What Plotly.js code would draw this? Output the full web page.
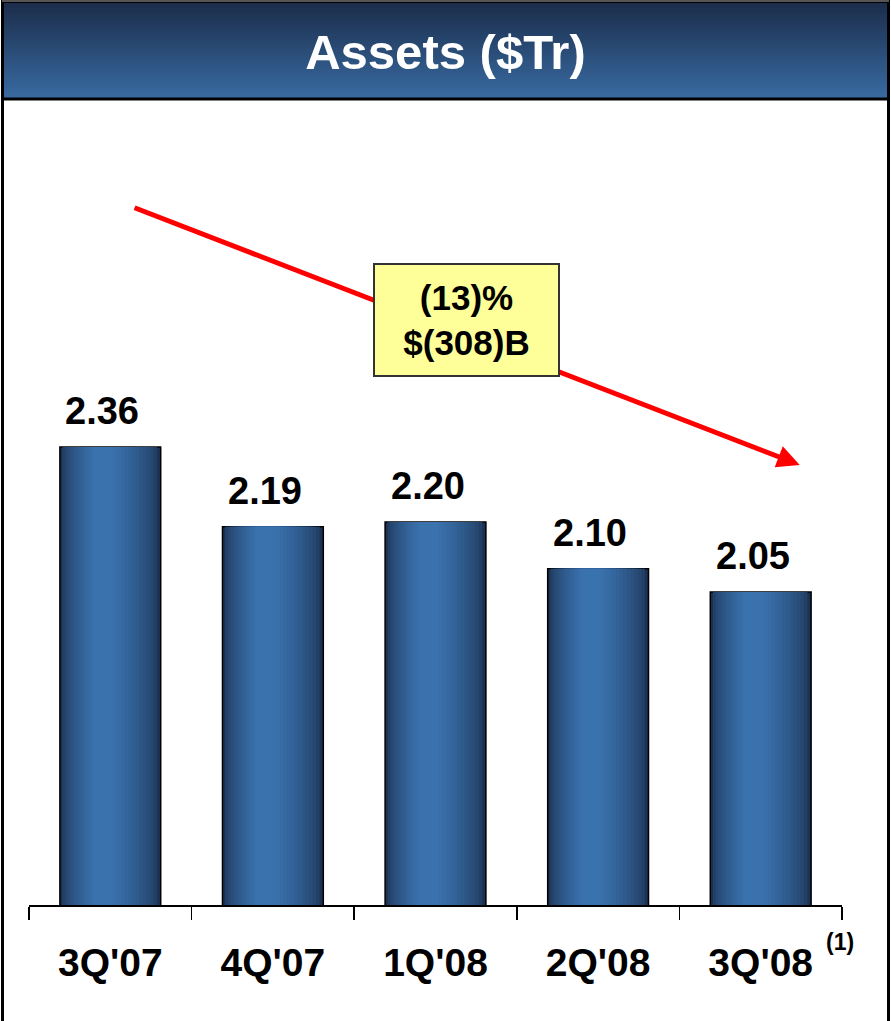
<!DOCTYPE html>
<html>
<head>
<meta charset="utf-8">
<script src="https://cdn.plot.ly/plotly-3.0.1.min.js"></script>
<style>
  html, body { margin: 0; padding: 0; background: #ffffff; }
  #chart { width: 891px; height: 1021px; }
</style>
</head>
<body>
<div id="chart"></div>
<script>
// ---- Data ----
const categories = ["3Q'07", "4Q'07", "1Q'08", "2Q'08", "3Q'08"];
const assets = [2.36, 2.19, 2.20, 2.10, 2.05];
const valueLabels = ["2.36", "2.19", "2.20", "2.10", "2.05"];
const chartTitle = "Assets ($Tr)";
const changeText = ["(13)%", "$(308)B"];
const footnote = "(1)";

// ---- Geometry ----
const W = 891, H = 1021;
const M = { l: 29, r: 49, t: 110, b: 116 };
const plotW = W - M.l - M.r, plotH = H - M.t - M.b;
const yMin = 1.381, pxPerUnit = 467.7;
const yMax = yMin + plotH / pxPerUnit;
const px2x = px => (px - M.l) / plotW;          // paper x
const px2y = py => (H - M.b - py) / plotH;      // paper y

const FONT = "Liberation Sans, Arial, sans-serif";

// ---- Bars with a horizontal gradient (stacked overlay layers) ----
const fullWidth = 0.62;
const dark = [28, 50, 82], light = [58, 114, 174];
const N = 14;
const traces = [];
for (let k = 0; k < N; k++) {
  const f = k / (N - 1);
  const t = Math.pow(f, 0.6);
  const c = dark.map((d, i) => Math.round(d + (light[i] - d) * t));
  const w = fullWidth * (1 - 0.8 * f);
  const shift = -0.04 * f; // light band slightly left of centre
  traces.push({
    type: 'bar',
    x: categories,
    y: assets,
    base: 0,
    width: categories.map(() => w),
    offset: categories.map(() => (k === 0 ? -fullWidth / 2 : -w / 2 + shift)),
    marker: {
      color: `rgb(${c[0]},${c[1]},${c[2]})`,
      line: { color: k === 0 ? '#000000' : 'rgba(0,0,0,0)', width: k === 0 ? 1.5 : 0 }
    },
    hoverinfo: 'skip',
    showlegend: false
  });
}

// ---- Shapes: header gradient, borders ----
const shapes = [];
const headerTop = 2, headerBottom = 98;
const hTop = [27, 45, 74], hBot = [56, 106, 161];
const S = 48;
for (let i = 0; i < S; i++) {
  const f = i / (S - 1);
  const c = hTop.map((a, j) => Math.round(a + (hBot[j] - a) * f));
  const y0 = headerTop + (headerBottom - headerTop) * i / S;
  shapes.push({
    type: 'rect', xref: 'paper', yref: 'paper', layer: 'below',
    x0: px2x(2), x1: px2x(889), y0: px2y(headerBottom), y1: px2y(y0),
    fillcolor: `rgb(${c[0]},${c[1]},${c[2]})`, line: { width: 0 }
  });
}
// header bottom line
shapes.push({
  type: 'line', xref: 'paper', yref: 'paper',
  x0: px2x(2), x1: px2x(889), y0: px2y(99), y1: px2y(99),
  line: { color: '#000000', width: 3 }
});
// outer border (bottom edge falls outside the picture)
shapes.push({
  type: 'rect', xref: 'paper', yref: 'paper',
  x0: px2x(2.5), x1: px2x(888.5), y0: px2y(1028), y1: px2y(1.5),
  line: { color: '#000000', width: 3 }, fillcolor: 'rgba(0,0,0,0)'
});
shapes.push({
  type: 'line', xref: 'paper', yref: 'paper',
  x0: px2x(2), x1: px2x(889), y0: px2y(1), y1: px2y(1),
  line: { color: '#555555', width: 2 }
});

// ---- Annotations ----
const annotations = categories.map((c, i) => ({
  x: c, y: assets[i], xref: 'x', yref: 'y',
  text: '<b>' + valueLabels[i] + '</b>',
  showarrow: false, xanchor: 'center', yanchor: 'bottom', yshift: 13, xshift: -8,
  font: { family: FONT, size: 38, color: '#000000' }
}));

// red trend arrow
annotations.push({
  xref: 'x', yref: 'y', axref: 'x', ayref: 'y',
  x: 4.24, y: 2.322, ax: 0.14, ay: 2.873,
  text: '', showarrow: true,
  arrowhead: 2, arrowsize: 0.9, arrowwidth: 5, arrowcolor: '#ff0000'
});

// yellow change box
annotations.push({
  xref: 'x', yref: 'y', x: 2.19, y: 2.632,
  text: '<b>' + changeText.join('<br>') + '</b>',
  showarrow: false, align: 'center', xanchor: 'center', yanchor: 'middle',
  font: { family: FONT, size: 35, color: '#000000' },
  bgcolor: '#ffff99', bordercolor: '#333333', borderwidth: 2, borderpad: 0,
  width: 183, height: 110, valign: 'middle'
});

// footnote
annotations.push({
  xref: 'paper', yref: 'paper', x: px2x(840), y: px2y(942),
  xanchor: 'center', yanchor: 'middle',
  text: '<b>' + footnote + '</b>', showarrow: false,
  font: { family: FONT, size: 23, color: '#000000' }
});

const layout = {
  width: W, height: H,
  margin: M,
  paper_bgcolor: '#ffffff',
  plot_bgcolor: 'rgba(0,0,0,0)',
  barmode: 'overlay',
  title: {
    text: '<b>' + chartTitle + '</b>',
    x: 0.5, xref: 'container', xanchor: 'center',
    y: 1 - 52 / H, yref: 'container', yanchor: 'middle',
    font: { family: FONT, size: 49, color: '#ffffff' }
  },
  xaxis: {
    type: 'category',
    range: [-0.5, 4.5],
    showline: true, linecolor: '#000000', linewidth: 1.5,
    ticks: 'outside', tickson: 'boundaries', ticklen: 13, tickwidth: 1.5, tickcolor: '#000000',
    tickfont: { family: FONT, size: 39, color: '#000000', weight: 'bold' },
    ticklabelstandoff: 23,
    showgrid: false, zeroline: false, fixedrange: true
  },
  yaxis: {
    range: [yMin, yMax],
    visible: false, showgrid: false, zeroline: false, fixedrange: true
  },
  shapes: shapes,
  annotations: annotations,
  showlegend: false
};

Plotly.newPlot('chart', traces, layout, { displayModeBar: false, staticPlot: true });
</script>
</body>
</html>
